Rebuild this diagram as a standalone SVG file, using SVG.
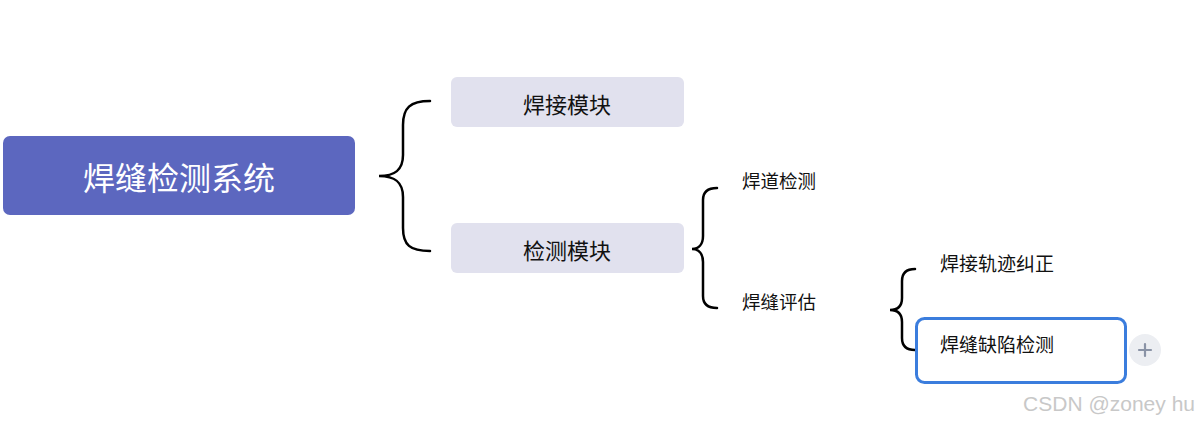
<svg xmlns="http://www.w3.org/2000/svg" width="1199" height="425" viewBox="0 0 1199 425">
<style>
.t{font-family:"Noto Sans CJK SC","Noto Sans",sans-serif;fill:#111;}
.brace{fill:none;stroke:#000;stroke-width:2.5;stroke-linecap:round;}
.sub{fill:#e1e1ee;}
</style>
<rect width="1199" height="425" fill="#fff"/>
<g id="connectors">
<path class="brace" d="M430,101 C410,101 403,108 403,125 L403,155 C403,170 395,176 379,176 C395,176 403,182 403,197 L403,228 C403,245 410,251 430,251"/>
<path class="brace" d="M717,188 C707,188 703,192 703,200 L703,236 C703,244 699,249 692,249 C699,249 703,254 703,262 L703,296 C703,304 707,308 717,308"/>
<path class="brace" d="M915,269 C906,269 902,273 902,281 L902,298 C902,306 898,310 890,310 C898,310 902,314 902,322 L902,338 C902,346 906,350 915,350"/>
</g>
<g id="root">
<rect x="3" y="136" width="352" height="79" rx="7" fill="#5c67bf"/>
<text x="179" y="176" class="t" font-size="32" style="fill:#fff" text-anchor="middle" dominant-baseline="central">焊缝检测系统</text>
</g>
<g id="n1">
<rect class="sub" x="451" y="77" width="233" height="50" rx="6"/>
<text x="567" y="103" class="t" font-size="22" text-anchor="middle" dominant-baseline="central">焊接模块</text>
</g>
<g id="n2">
<rect class="sub" x="451" y="223" width="233" height="50" rx="6"/>
<text x="567" y="249" class="t" font-size="22" text-anchor="middle" dominant-baseline="central">检测模块</text>
</g>
<g id="n3">
<text x="742" y="180" class="t" font-size="18.5" dominant-baseline="central">焊道检测</text>
</g>
<g id="n4">
<text x="742" y="301" class="t" font-size="18.5" dominant-baseline="central">焊缝评估</text>
</g>
<g id="n5">
<text x="940" y="262" class="t" font-size="19" dominant-baseline="central">焊接轨迹纠正</text>
</g>
<g id="n6">
<rect x="916.5" y="318.5" width="209" height="64" rx="8" fill="#fff" stroke="#3b7ddd" stroke-width="3"/>
<text x="940" y="343" class="t" font-size="19" dominant-baseline="central">焊缝缺陷检测</text>
</g>
<g id="plus">
<circle cx="1145" cy="350" r="16" fill="#eceef2"/>
<path d="M1139,350 H1151 M1145,344 V356" stroke="#8a93a6" stroke-width="2.2" stroke-linecap="round"/>
</g>
<text x="1195" y="411" font-family="Liberation Sans, Arial, sans-serif" font-size="21" fill="#c8c8c8" text-anchor="end">CSDN @zoney hu</text>
</svg>
